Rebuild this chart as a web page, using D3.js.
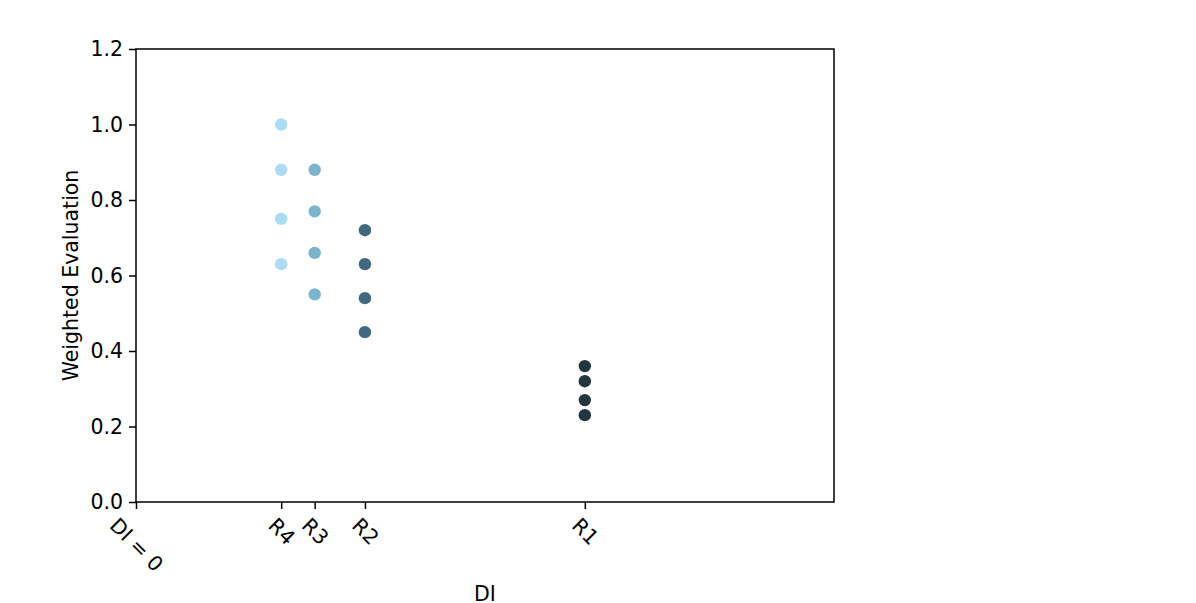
<!DOCTYPE html>
<html>
<head>
<meta charset="utf-8">
<script src="https://cdn.jsdelivr.net/npm/d3@7"></script>
<style>
  body { margin: 0; background: #fff; }
  text { font-family: "DejaVu Sans", sans-serif; fill: #000; }
</style>
</head>
<body>
<script>
const width = 1196;
const height = 603;

// x positions of each group (DI), estimated on an axis running 0..1
const groups = ['R4', 'R3', 'R2', 'R1'];
const groupDI = [0.208, 0.256, 0.328, 0.643];
const groupColors = ['#acdcf4', '#7ab4cd', '#41687e', '#223540'];
const values = [
  [1.00, 0.88, 0.75, 0.63],
  [0.88, 0.77, 0.66, 0.55],
  [0.72, 0.63, 0.54, 0.45],
  [0.36, 0.32, 0.27, 0.23]
];
const xTickLabels = ['DI = 0', 'R4', 'R3', 'R2', 'R1'];
const xTickValues = [0].concat(groupDI);
const yTicks = [0, 0.2, 0.4, 0.6, 0.8, 1.0, 1.2];

const margin = { left: 136, right: 1196 - 834, top: 49, bottom: 603 - 502 };

const svg = d3.select('body').append('svg')
  .attr('width', width)
  .attr('height', height);

const x = d3.scaleLinear().domain([0, 1]).range([margin.left, width - margin.right]);
const y = d3.scaleLinear().domain([0, 1.2]).range([height - margin.bottom, margin.top]);

const fontSize = 20.5;
const tickLen = 7;

// points
const points = [];
groups.forEach((g, i) => {
  values[i].forEach(v => points.push({ group: g, di: groupDI[i], v: v, color: groupColors[i] }));
});

svg.append('g')
  .selectAll('circle')
  .data(points)
  .enter().append('circle')
    .attr('cx', d => x(d.di))
    .attr('cy', d => y(d.v))
    .attr('r', 6.2)
    .attr('fill', d => d.color);

// y axis
const yAxis = svg.append('g')
  .attr('transform', `translate(${margin.left},0)`)
  .call(d3.axisLeft(y).tickValues(yTicks).tickFormat(d3.format('.1f')).tickSizeOuter(0).tickSize(tickLen).tickPadding(6));

// x axis
const xAxis = svg.append('g')
  .attr('transform', `translate(0,${height - margin.bottom})`)
  .call(d3.axisBottom(x).tickValues(xTickValues).tickFormat((d, i) => xTickLabels[i]).tickSizeOuter(0).tickSize(tickLen));

[yAxis, xAxis].forEach(ax => {
  ax.selectAll('path.domain').remove();
  ax.selectAll('.tick line').attr('stroke', '#000').attr('stroke-width', 1.5);
  ax.selectAll('.tick text').attr('font-size', fontSize).attr('font-family', '"DejaVu Sans", sans-serif').attr('fill', '#000');
});

// rotated x tick labels: bbox centred under tick, top just below tick
xAxis.selectAll('.tick text').each(function () {
  const t = d3.select(this);
  const w = this.getComputedTextLength();
  const lh = fontSize * 0.95;
  const s = Math.SQRT1_2;
  const h = (w + lh) * s;
  t.attr('text-anchor', 'middle')
    .attr('dy', null)
    .attr('y', null)
    .attr('dominant-baseline', 'central')
    .attr('transform', `translate(0,${tickLen + 6 + h / 2}) rotate(45)`);
});

// frame
svg.append('rect')
  .attr('x', margin.left)
  .attr('y', margin.top)
  .attr('width', width - margin.left - margin.right)
  .attr('height', height - margin.top - margin.bottom)
  .attr('fill', 'none')
  .attr('stroke', '#000')
  .attr('stroke-width', 1.5);

// axis labels
svg.append('text')
  .attr('x', (margin.left + width - margin.right) / 2)
  .attr('y', 601)
  .attr('text-anchor', 'middle')
  .attr('font-size', fontSize)
  .text('DI');

svg.append('text')
  .attr('transform', `translate(78,${(margin.top + height - margin.bottom) / 2}) rotate(-90)`)
  .attr('text-anchor', 'middle')
  .attr('font-size', fontSize)
  .text('Weighted Evaluation');
</script>
</body>
</html>
